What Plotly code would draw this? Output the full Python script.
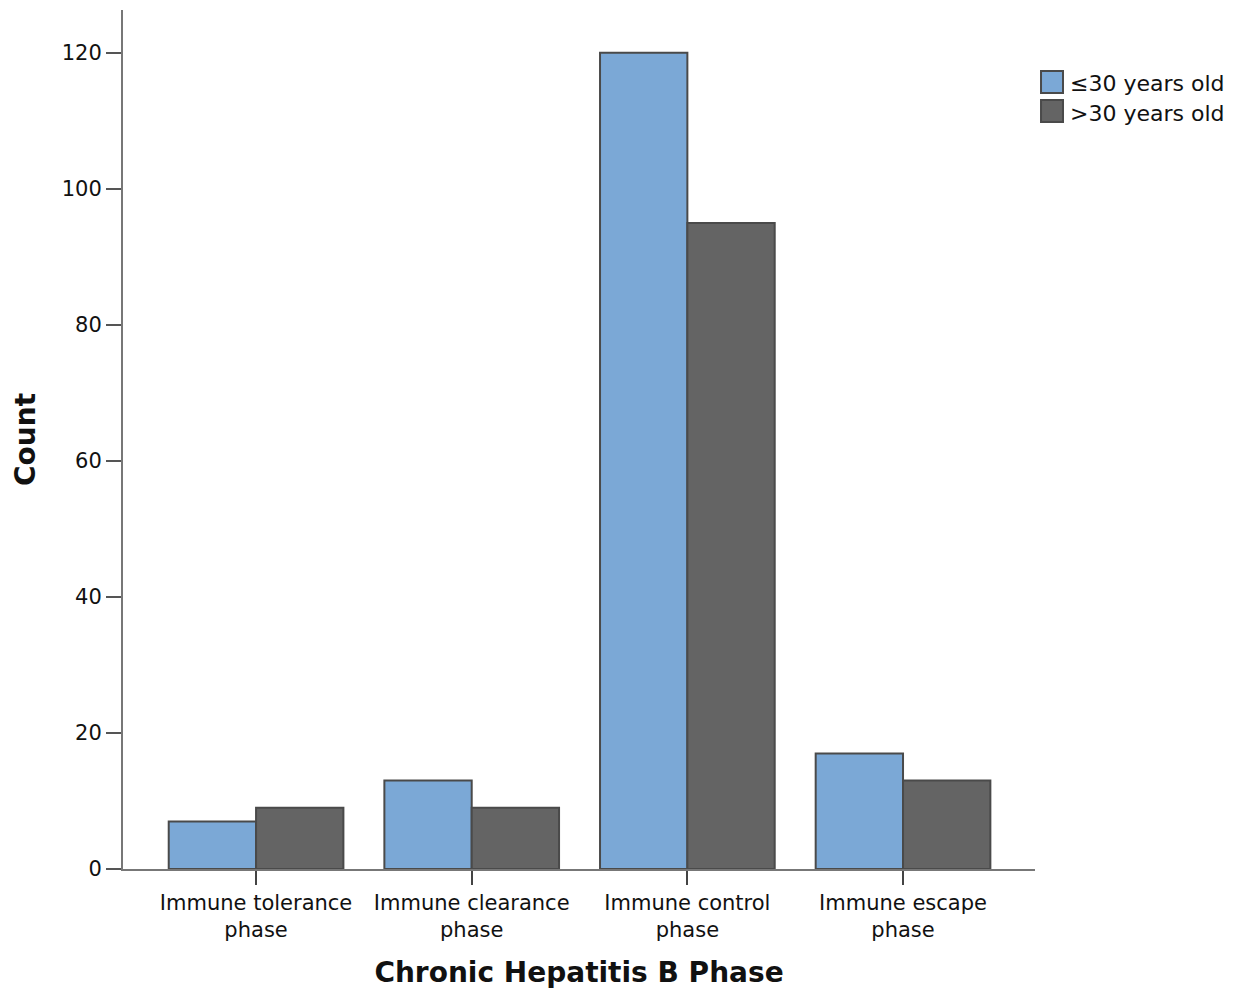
import plotly.graph_objects as go

categories = ["Immune tolerance<br>phase", "Immune clearance<br>phase", "Immune control<br>phase", "Immune escape<br>phase"]
young = [7, 13, 120, 17]
old = [9, 9, 95, 13]
series_names = ["≤30 years old", ">30 years old"]
series_colors = ["#7BA8D6", "#646464"]
y_ticks = [0, 20, 40, 60, 80, 100, 120]

edge = "#4A4A4A"
fig = go.Figure()
for vals, name, col in zip([young, old], series_names, series_colors):
    fig.add_trace(go.Bar(x=categories, y=vals, name=name, showlegend=False,
                         marker=dict(color=col, line=dict(color=edge, width=2))))

# custom legend (large swatches like the reference)
leg_rows = [(0.9034, 0.929, 0.915), (0.8696, 0.8952, 0.880)]
for (y0, y1, yt), name, col in zip(leg_rows, series_names, series_colors):
    fig.add_shape(type="rect", xref="paper", yref="paper", x0=1.0066, x1=1.0307, y0=y0, y1=y1,
                  fillcolor=col, line=dict(color=edge, width=2))
    fig.add_annotation(xref="paper", yref="paper", x=1.036, y=yt, xanchor="left", yanchor="middle",
                       text=name, showarrow=False, font=dict(size=22, family="DejaVu Sans", color="#111111"))

font_family = "DejaVu Sans, Verdana, sans-serif"
fig.update_layout(
    width=1234, height=981,
    margin=dict(l=115, r=207, t=2, b=120),
    paper_bgcolor="white", plot_bgcolor="white",
    barmode="group", bargap=0.19, bargroupgap=0,
    font=dict(family=font_family, size=20, color="#111111"),
    xaxis=dict(
        range=[-0.617, 3.612], showline=True, linecolor="#777777", linewidth=1.5,
        ticks="outside", ticklen=14, tickwidth=2, tickcolor="#444444",
        showgrid=False, zeroline=False, automargin=False,
        tickfont=dict(size=21, family=font_family, color="#111111"),
        title=dict(text="<b>Chronic Hepatitis B Phase</b>", font=dict(size=28, family=font_family, color="#111111"), standoff=22),
    ),
    yaxis=dict(
        range=[0, 126.3], showline=True, linecolor="#777777", linewidth=2,
        tickvals=y_ticks, ticks="outside", ticklen=15, tickwidth=2, tickcolor="#555555",
        showgrid=False, zeroline=False, automargin=False,
        tickfont=dict(size=21, family=font_family, color="#111111"),
        title=dict(text="<b>Count</b>", font=dict(size=28, family=font_family, color="#111111"), standoff=18),
    ),
)

fig.write_html("out.html")
